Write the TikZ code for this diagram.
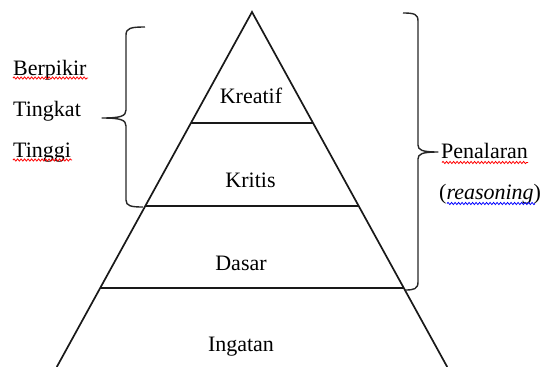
\documentclass[tikz,border=0pt]{standalone}
\usepackage{fontspec}
\setmainfont{Liberation Serif}
\newfontfamily\labelfont{Liberation Serif}
\usetikzlibrary{calc,decorations.pathmorphing}
\begin{document}
\begin{tikzpicture}[x=1pt,y=-1pt,
  label text/.style={inner sep=0pt,font=\labelfont\fontsize{22}{26}\selectfont},
  level line/.style={line width=1.7pt,black!90},
  brace line/.style={line width=1.4pt,black!85,line join=round},
  spell/.style={line width=0.8pt,decorate,decoration={snake,amplitude=1.1pt,segment length=3.5pt}},
  spell red/.style={spell,red},
  spell blue/.style={spell,blue}]
  \useasboundingbox (0,0) rectangle (544,367);

  % pyramid outline
  \coordinate (apex) at (252,12);
  \coordinate (bl) at (56.75,367);
  \coordinate (br) at (447.25,367);
  \draw[level line] (bl) -- (apex) -- (br);

  % level boundaries
  \coordinate (l1) at ($(apex)!0.3127!(bl)$);
  \coordinate (r1) at ($(apex)!0.3127!(br)$);
  \coordinate (l2) at ($(apex)!0.5465!(bl)$);
  \coordinate (r2) at ($(apex)!0.5465!(br)$);
  \coordinate (l3) at ($(apex)!0.7775!(bl)$);
  \coordinate (r3) at ($(apex)!0.7775!(br)$);
  \draw[level line] (l1) -- (r1);
  \draw[level line] (l2) -- (r2);
  \draw[level line] (l3) -- (r3);

  % level names
  \node[label text,anchor=base] (kreatif) at (251,103) {Kreatif};
  \node[label text,anchor=base] (kritis) at (250.5,187) {Kritis};
  \node[label text,anchor=base] (dasar) at (241,270) {Dasar};
  \node[label text,anchor=base] (ingatan) at (241,351) {Ingatan};

  % left brace: higher-order thinking
  \draw[brace line] (145,27) .. controls (131,27) and (126,28) .. (126,35)
    -- (126,110) .. controls (126,116) and (121,118) .. (102,118)
    .. controls (121,118) and (126,120) .. (126,126)
    -- (126,200) .. controls (126,206) and (131,207) .. (143,207);
  \node[label text,anchor=base west] (berpikir) at (13,75) {Berpikir};
  \node[label text,anchor=base west] (tingkat) at (13,116) {Tingkat};
  \node[label text,anchor=base west] (tinggi) at (13,157) {Tinggi};
  \draw[spell red] (13,78) -- (88,78);
  \draw[spell red] (13,160) -- (72,160);

  % right brace: reasoning
  \draw[brace line] (403,13) .. controls (414,13) and (418,14) .. (418,21)
    -- (418,145) .. controls (418,150) and (422,152) .. (438,152)
    .. controls (422,152) and (418,154) .. (418,159)
    -- (418,282) .. controls (418,289) and (414,290) .. (405,290);
  \node[label text,anchor=base west] (penalaran) at (441,158) {Penalaran};
  \node[label text,anchor=base west] (reasoning) at (439,199) {(\textit{reasoning})};
  \draw[spell red] (442,162.5) -- (528,162.5);
  \draw[spell blue] (447,203.5) -- (535,203.5);
\end{tikzpicture}
\end{document}
